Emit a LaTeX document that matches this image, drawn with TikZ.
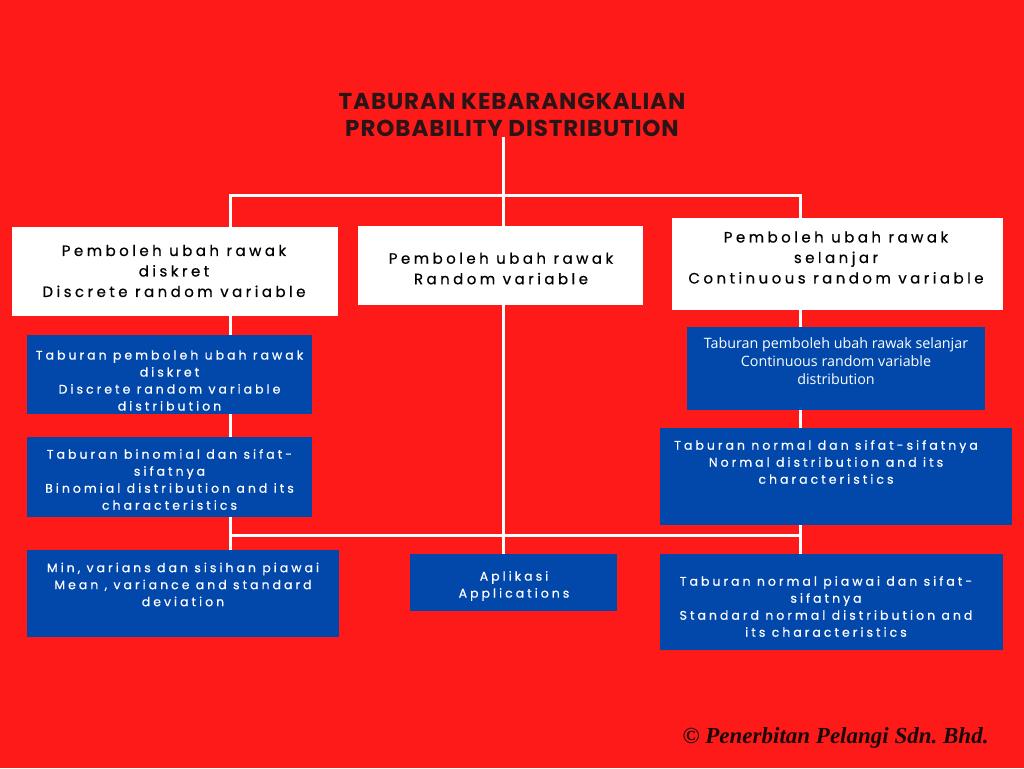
\documentclass[tikz,border=0pt]{standalone}
\usepackage{fontspec}
\setmainfont{Open Sans}
\newfontfamily\titlefont[LetterSpace=4]{Poppins}
\newfontfamily\spacedfont[LetterSpace=23,FakeBold=0.5]{Poppins}
\newfontfamily\bluefont[LetterSpace=24,FakeBold=0.5]{Poppins}
\newfontfamily\plainfont{Open Sans}
\newfontfamily\pubfont{Liberation Serif}
\definecolor{bgred}{RGB}{255,26,26}
\definecolor{boxblue}{RGB}{2,72,170}
\definecolor{titledark}{RGB}{42,20,22}
\definecolor{pubdark}{RGB}{26,8,8}

\begin{document}
\frenchspacing
\begin{tikzpicture}[x=1pt,y=-1pt,line join=miter,
  link/.style={draw=white,line width=3pt},
  wbox/.style={fill=white,inner sep=0pt},
  bbox/.style={fill=boxblue,inner sep=0pt},
  wtext/.style={inner sep=0pt,align=center,text=black,font=\fontsize{15}{20.5}\selectfont\spacedfont},
  btext/.style={inner sep=0pt,align=center,text=white,font=\fontsize{12.5}{17}\selectfont\bluefont}]
\path[use as bounding box,fill=bgred] (0,0) rectangle (1024,768);
% title
\node[inner sep=0pt,align=center,text=titledark,font=\fontsize{23}{27}\selectfont\titlefont\bfseries] (tit) at (512,115) {TABURAN KEBARANGKALIAN\\PROBABILITY DISTRIBUTION};
% white boxes
\node[wbox,minimum width=326,minimum height=89] (dv) at (175,271.5) {};
\node[wtext] at (174,271) {Pemboleh ubah rawak\\diskret\\Discrete random variable};
\node[wbox,minimum width=285,minimum height=79] (rv) at (500.5,265.5) {};
\node[wtext] at (501,268.5) {Pemboleh ubah rawak\\Random variable};
\node[wbox,minimum width=331,minimum height=92] (cv) at (837.5,264) {};
\node[wtext] at (836,257.5) {Pemboleh ubah rawak\\selanjar\\Continuous random variable};
% blue boxes, left
\node[bbox,minimum width=285,minimum height=79] (dd) at (169.5,374.5) {};
\node[btext] at (169.5,380.5) {Taburan pemboleh ubah rawak\\diskret\\Discrete random variable\\distribution};
\node[bbox,minimum width=285,minimum height=80] (bin) at (169.5,477) {};
\node[btext] at (169.5,479.5) {Taburan binomial dan sifat-\\sifatnya\\Binomial distribution and its\\characteristics};
\node[bbox,minimum width=312,minimum height=87] (mean) at (183,593.5) {};
\node[btext] at (183,584.5) {Min, varians dan sisihan piawai\\Mean , variance and standard\\deviation};
% blue box, middle
\node[bbox,minimum width=207,minimum height=57] (app) at (513.5,582.5) {};
\node[btext] at (514,586) {Aplikasi\\Applications};
% blue boxes, right
\node[bbox,minimum width=298,minimum height=83] (cd) at (836,368.5) {};
\node[inner sep=0pt,align=center,text=white,font=\fontsize{14.3}{18}\selectfont\plainfont] at (836,361) {Taburan pemboleh ubah rawak selanjar\\Continuous random variable\\distribution};
\node[bbox,minimum width=352,minimum height=97] (nd) at (836,476.5) {};
\node[btext] at (826,462) {Taburan normal dan sifat-sifatnya\\Normal distribution and its\\characteristics};
\node[bbox,minimum width=343,minimum height=96] (snd) at (831.5,602) {};
\node[btext] at (826,606.5) {Taburan normal piawai dan sifat-\\sifatnya\\Standard normal distribution and\\its characteristics};
% connectors
\coordinate (hub) at (503,195);
\coordinate (hubL) at (230,195);
\coordinate (hubR) at (800,195);
\coordinate (low) at (503,535);
\draw[link] (tit.south -| hub) -- (hub |- rv.north);
\draw[link] (hubL |- dv.north) -- (hubL) -- (hubR) -- (hubR |- cv.north);
\draw[link] (dv.south -| hubL) -- (dd.north -| hubL) (dd.south -| hubL) -- (bin.north -| hubL) (bin.south -| hubL) -- (mean.north -| hubL);
\draw[link] (rv.south -| hub) -- (app.north -| hub);
\draw[link] (cv.south -| hubR) -- (cd.north -| hubR) (cd.south -| hubR) -- (nd.north -| hubR) (nd.south -| hubR) -- (snd.north -| hubR);
\draw[link] (low -| hubL) -- (low -| hubR);
% publisher
\node[inner sep=0pt,text=pubdark,font=\fontsize{23}{27}\selectfont\pubfont\bfseries\itshape] (pub) at (835.5,738) {© Penerbitan Pelangi Sdn. Bhd.};
\end{tikzpicture}
\end{document}
